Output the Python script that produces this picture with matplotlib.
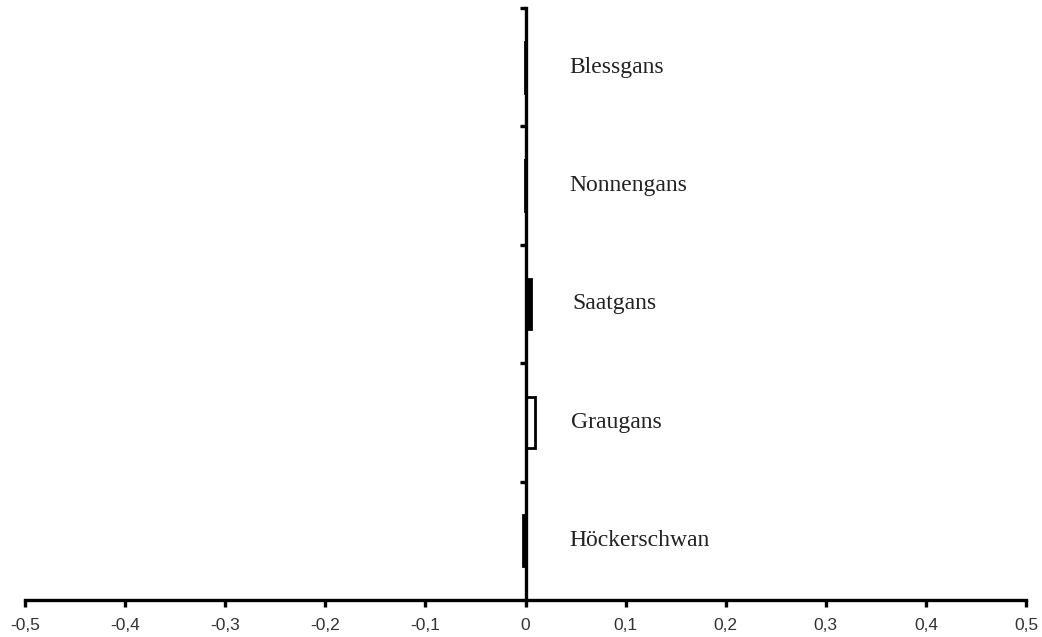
import matplotlib
matplotlib.use("Agg")
import matplotlib.pyplot as plt
from matplotlib.ticker import FuncFormatter

# Data (bottom to top)
species = ["Höckerschwan", "Graugans", "Saatgans", "Nonnengans", "Blessgans"]
values = [-0.002, 0.009, 0.005, -0.0005, -0.0005]
bar_face = ["black", "white", "black", "black", "black"]
label_x = [0.044, 0.045, 0.047, 0.044, 0.044]
x_ticks = [-0.5, -0.4, -0.3, -0.2, -0.1, 0.0, 0.1, 0.2, 0.3, 0.4, 0.5]

fig = plt.figure(figsize=(10.42, 6.37), dpi=100)
ax = fig.add_axes([25/1042, 1 - 600/637, (1026 - 25)/1042, (600 - 8)/637])

pos = [i + 0.5 for i in range(len(species))]
ax.barh(pos, values, height=0.43, color=bar_face, edgecolor="black", linewidth=2.0, zorder=3)

for p, name, lx in zip(pos, species, label_x):
    ax.text(lx, p, name, family="Liberation Serif", fontsize=17, color="#222222",
            ha="left", va="center")


def fmt(v, _):
    if abs(v) < 1e-9:
        return "0"
    return ("%.1f" % v).replace(".", ",")


ax.set_xlim(-0.5, 0.5)
ax.set_ylim(0, len(species))
ax.set_xticks(x_ticks)
ax.xaxis.set_major_formatter(FuncFormatter(fmt))
ax.set_yticks(range(1, len(species) + 1))
ax.set_yticklabels([])

for s in ["top", "right"]:
    ax.spines[s].set_visible(False)
ax.spines["left"].set_position(("data", 0))
ax.spines["left"].set_linewidth(2.4)
ax.spines["bottom"].set_linewidth(2.4)
ax.spines["left"].set_zorder(4)
ax.tick_params(axis="x", direction="out", length=5, width=2.4, labelsize=12.5,
               pad=8, labelcolor="#333333")
ax.tick_params(axis="y", direction="out", length=4, width=2.4)
for lab in ax.get_xticklabels():
    lab.set_family("Liberation Sans")

fig.savefig("out.png", dpi=100)
